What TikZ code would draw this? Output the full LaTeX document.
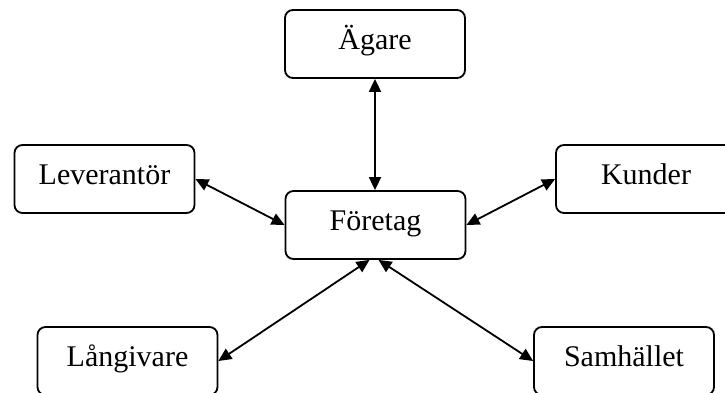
\documentclass[tikz,border=0pt]{standalone}
\usepackage{fontspec}
\setmainfont{Liberation Serif}
\usetikzlibrary{arrows.meta}

\begin{document}
\begin{tikzpicture}[x=1pt,y=-1pt,
 box/.style={draw,line width=1.8pt,rounded corners=8pt,minimum width=180pt,minimum height=68pt,inner sep=0pt,text height=20pt,text depth=9pt,font=\fontsize{30}{36}\selectfont},
 link/.style={line width=1.8pt,{Triangle[length=13pt,width=12pt]}-{Triangle[length=13pt,width=12pt]}}]
 \useasboundingbox (0,0) rectangle (725,393);
 \node[box] (agare) at (375,44) {Ägare};
 \node[box] (foretag) at (375.5,225) {Företag};
 \node[box] (lev) at (104.5,179) {Leverantör};
 \node[box] (kunder) at (646,179) {Kunder};
 \node[box] (lang) at (127.5,361) {Långivare};
 \node[box] (samh) at (624,361) {Samhället};
 \draw[link] (agare.south) -- (agare.south|-foretag.north);
 \draw[link] (lev.east) -- (foretag.west);
 \draw[link] (kunder.west) -- (foretag.east);
 \draw[link] (lang.east) -- ([xshift=-6pt]foretag.south);
 \draw[link] (samh.west) -- ([xshift=3pt]foretag.south);
\end{tikzpicture}
\end{document}
